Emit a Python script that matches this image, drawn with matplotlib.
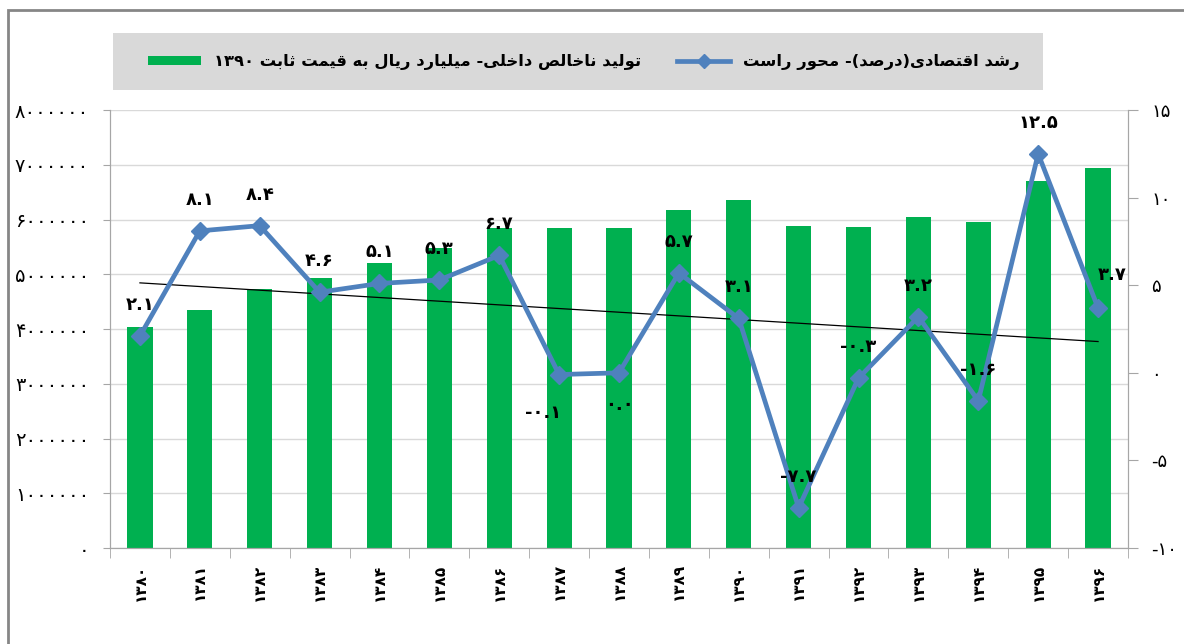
import re
import numpy as np
import matplotlib
matplotlib.use("Agg")
import matplotlib.pyplot as plt
from matplotlib.patches import Rectangle, Patch
from matplotlib.lines import Line2D

plt.rcParams['font.family'] = ['DejaVu Sans']

# data
years = [1380, 1381, 1382, 1383, 1384, 1385, 1386, 1387, 1388,
         1389, 1390, 1391, 1392, 1393, 1394, 1395, 1396]
gdp = [4040000, 4350000, 4730000, 4930000, 5210000, 5480000, 5840000, 5840000, 5840000,
       6170000, 6360000, 5880000, 5860000, 6050000, 5950000, 6700000, 6940000]
growth = [2.1, 8.1, 8.4, 4.6, 5.1, 5.3, 6.7, -0.1, 0.0,
          5.7, 3.1, -7.7, -0.3, 3.2, -1.6, 12.5, 3.7]
gdp_label = "تولید ناخالص داخلی- میلیارد ریال به قیمت ثابت ۱۳۹۰"
growth_label = "رشد اقتصادی(درصد)- محور راست"

# label offsets in pixels (dx, dy)
label_off = [(0, 31)] * 17
label_off[7] = (-16, -38)
label_off[8] = (0, -32)
label_off[16] = (14, 33)

GREEN = '#00b050'
BLUE = '#4f81bd'

# minimal arabic/persian shaping (matplotlib has no complex text layout)
FORMS = {
    'ا': ('\uFE8D', '\uFE8E'),
    'د': ('\uFEA9', '\uFEAA'),
    'ر': ('\uFEAD', '\uFEAE'),
    'و': ('\uFEED', '\uFEEE'),
    'ب': ('\uFE8F', '\uFE90', '\uFE91', '\uFE92'),
    'ت': ('\uFE95', '\uFE96', '\uFE97', '\uFE98'),
    'ث': ('\uFE99', '\uFE9A', '\uFE9B', '\uFE9C'),
    'ح': ('\uFEA1', '\uFEA2', '\uFEA3', '\uFEA4'),
    'خ': ('\uFEA5', '\uFEA6', '\uFEA7', '\uFEA8'),
    'س': ('\uFEB1', '\uFEB2', '\uFEB3', '\uFEB4'),
    'ش': ('\uFEB5', '\uFEB6', '\uFEB7', '\uFEB8'),
    'ص': ('\uFEB9', '\uFEBA', '\uFEBB', '\uFEBC'),
    'ق': ('\uFED5', '\uFED6', '\uFED7', '\uFED8'),
    'ل': ('\uFEDD', '\uFEDE', '\uFEDF', '\uFEE0'),
    'م': ('\uFEE1', '\uFEE2', '\uFEE3', '\uFEE4'),
    'ن': ('\uFEE5', '\uFEE6', '\uFEE7', '\uFEE8'),
    'ه': ('\uFEE9', '\uFEEA', '\uFEEB', '\uFEEC'),
    'ی': ('\uFBFC', '\uFBFD', '\uFBFE', '\uFBFF'),
}


def rtl(s):
    out = []
    for i, c in enumerate(s):
        f = FORMS.get(c)
        if f is None:
            out.append(c)
            continue
        prev = s[i - 1] if i > 0 else ''
        nxt = s[i + 1] if i + 1 < len(s) else ''
        jp = len(FORMS.get(prev, ())) == 4
        jn = len(f) == 4 and nxt in FORMS
        if jp and jn:
            out.append(f[3])
        elif jp:
            out.append(f[1])
        elif jn:
            out.append(f[2])
        else:
            out.append(f[0])
    vis = ''.join(out)[::-1]
    vis = re.sub(r'[0-9۰-۹.]+', lambda m: m.group(0)[::-1], vis)
    return vis.translate(str.maketrans('()', ')('))


FA = str.maketrans('0123456789', '۰۱۲۳۴۵۶۷۸۹')


def fa(s):
    return str(s).translate(FA)


fig = plt.figure(figsize=(11.84, 6.44), dpi=100)
ax = fig.add_axes([110 / 1184, 1 - 548 / 644, 1018 / 1184, 438 / 644])
ax2 = ax.twinx()

x = np.arange(len(years))
ax.bar(x, gdp, width=0.42, color=GREEN, zorder=2)
ax.set_xlim(-0.5, len(years) - 0.5)
ax.set_ylim(0, 8000000)
ax.set_yticks(np.arange(0, 8000001, 1000000))
ax.set_yticklabels([fa(v) for v in range(0, 8000001, 1000000)])
ax.yaxis.grid(True, color='#d9d9d9', lw=1)
ax.set_axisbelow(True)

ax.set_xticks(x)
ax.set_xticklabels([fa(y) for y in years], rotation=90, fontsize=11, fontweight='bold')
ax.set_xticks(np.arange(-0.5, len(years)), minor=True)
ax.tick_params(axis='x', which='major', length=0, pad=11)
ax.tick_params(axis='x', which='minor', length=7, color='#a6a6a6')
ax.tick_params(axis='y', length=5, color='#a6a6a6', pad=10, labelsize=14)

# trend of growth
coef = np.polyfit(x, growth, 1)
ax2.plot(x, np.polyval(coef, x), color='black', lw=0.9, zorder=2)
ax2.plot(x, growth, color=BLUE, lw=3.4, marker='D', ms=9, zorder=3)
ax2.set_ylim(-10, 15)
ax2.set_yticks(range(-10, 16, 5))
ax2.set_yticklabels([fa(v) for v in range(-10, 16, 5)])
ax2.tick_params(axis='y', length=7, color='#a6a6a6', pad=10, labelsize=13)

for i, v in enumerate(growth):
    ax2.annotate(fa(f"{v:.1f}"), (x[i], v), xytext=label_off[i], textcoords='offset pixels',
                 ha='center', va='center', fontsize=13, fontweight='bold')

for a in (ax, ax2):
    a.spines['top'].set_visible(False)
    for side in ('left', 'right', 'bottom'):
        a.spines[side].set_color('#a6a6a6')

# legend box
fig.patches.append(Rectangle((113 / 1184, 1 - 90 / 644), 930 / 1184, 57 / 644,
                             transform=fig.transFigure, facecolor='#d9d9d9', edgecolor='none', zorder=0))
handles = [Patch(facecolor=GREEN), Line2D([], [], color=BLUE, lw=3.4, marker='D', ms=7)]
fig.legend(handles, [rtl(gdp_label), rtl(growth_label)], ncol=2, frameon=False,
           loc='center', bbox_to_anchor=(584 / 1184, 1 - 62 / 644),
           prop={'size': 11.8, 'weight': 'bold'}, handlelength=3.2, columnspacing=2.2,
           handleheight=0.5)

# outer chart border (only top and left edges fall inside the picture)
fig.patches.append(Rectangle((8 / 1184, -0.1), 1.2, 1.1 - 10 / 644,
                             transform=fig.transFigure, facecolor='none', edgecolor='#868686', lw=2))

fig.savefig('out.png', dpi=100)
